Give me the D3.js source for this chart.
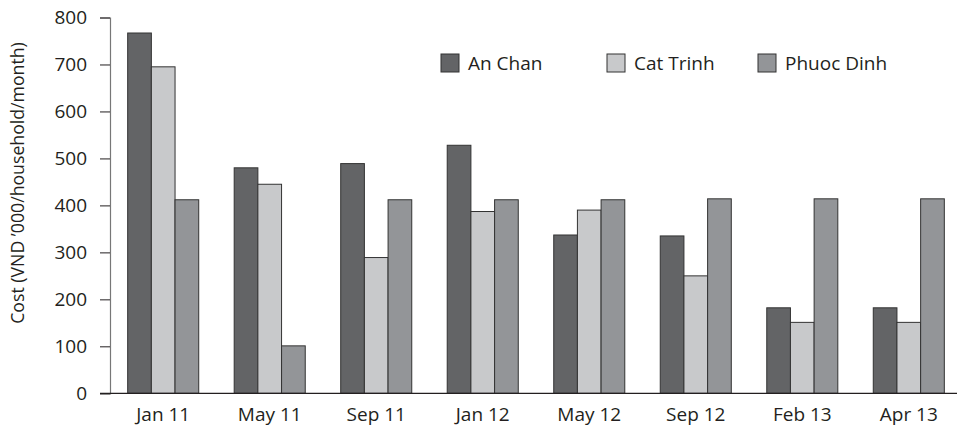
<!DOCTYPE html>
<html><head><meta charset="utf-8">
<script src="https://cdn.jsdelivr.net/npm/d3@7"></script>
<style>body{margin:0;background:#fff}svg{display:block}text{font-family:"Open Sans",sans-serif;fill:#231f20}</style>
</head><body><svg id="c" width="957" height="428"></svg>
<script>
const categories = ["Jan 11","May 11","Sep 11","Jan 12","May 12","Sep 12","Feb 13","Apr 13"];
const seriesNames = ["An Chan","Cat Trinh","Phuoc Dinh"];
const anChan    = [767, 480, 489, 528, 337, 335, 182, 182];
const catTrinh  = [695, 445, 289, 387, 390, 250, 151, 151];
const phuocDinh = [412, 101, 412, 412, 412, 414, 414, 414];
const yTicks = [0,100,200,300,400,500,600,700,800];
const yLabel = "Cost (VND \u2019000/household/month)";
const colors = ["#636466","#c8c9cb","#939598"];

const series = [anChan, catTrinh, phuocDinh];
const svg = d3.select("#c");
const x0 = d3.scaleBand().domain(categories).range([110, 962]).paddingInner(0.333).paddingOuter(0.166);
const x1 = d3.scaleBand().domain(seriesNames).range([0, x0.bandwidth()]);
const y = d3.scaleLinear().domain([0, 800]).range([393.3, 17.5]);

// bars
const g = svg.append("g");
categories.forEach((c, i) => {
  seriesNames.forEach((s, j) => {
    g.append("rect")
      .attr("x", x0(c) + x1(s))
      .attr("y", y(series[j][i]))
      .attr("width", x1.bandwidth())
      .attr("height", y(0) - y(series[j][i]))
      .attr("fill", colors[j])
      .attr("stroke", "#333")
      .attr("stroke-width", 1);
  });
});

// y axis
const ya = svg.append("g").attr("transform", "translate(110,0)")
  .call(d3.axisLeft(y).tickValues(yTicks).tickSize(10).tickPadding(13));
ya.select(".domain").attr("stroke", "#777").attr("stroke-width", 1.2);
ya.selectAll(".tick line").attr("stroke", "#231f20");
ya.selectAll(".tick text").style("font-size", "19px").attr("fill", "#231f20");

// x axis
const xa = svg.append("g").attr("transform", `translate(0,${y(0)})`)
  .call(d3.axisBottom(x0).tickSize(0).tickPadding(14).tickSizeOuter(0));
xa.select(".domain").attr("d", `M100,0H957`).attr("stroke", "#231f20").attr("stroke-width", 1.3);
xa.selectAll(".tick text").style("font-size", "19px").attr("fill", "#231f20");

// y label
svg.append("text")
  .attr("transform", "translate(24,183) rotate(-90)")
  .attr("text-anchor", "middle")
  .style("font-size", "17.7px")
  .text(yLabel);

// legend
const legX = [441, 607, 758];
seriesNames.forEach((s, j) => {
  svg.append("rect").attr("x", legX[j]).attr("y", 54).attr("width", 18).attr("height", 18)
    .attr("fill", colors[j]).attr("stroke", "#333").attr("stroke-width", 1);
  svg.append("text").attr("x", legX[j] + 27).attr("y", 70).style("font-size", "19px").text(s);
});
</script></body></html>
